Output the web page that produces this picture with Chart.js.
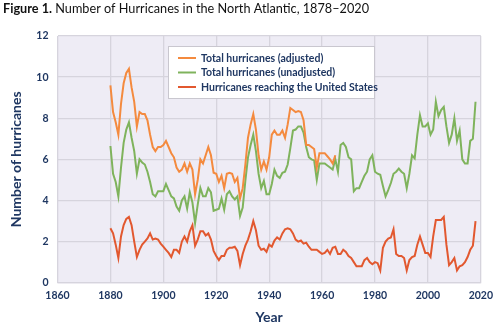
<!DOCTYPE html>
<html>
<head>
<meta charset="utf-8">
<script src="https://cdn.jsdelivr.net/npm/chart.js@4"></script>
<style>
  html, body { margin: 0; padding: 0; background: #ffffff; }
  #wrap { width: 500px; height: 325px; position: relative; }
</style>
</head>
<body>
<div id="wrap"><canvas id="chart" width="500" height="325"></canvas></div>
<script>
// Five-year average counts of North Atlantic hurricanes, plotted at the middle year.
const firstYear = 1880;
const lastYear = 2018;

// Total hurricanes, adjusted for missed storms (1880–1965)
const adjusted = [
  9.6, 8.3, 7.8, 7.2, 8.7, 9.7, 10.2, 10.4, 9.5, 8.8,
  7.6, 8.3, 8.2, 8.2, 7.9, 7.2, 6.6, 6.4, 6.6, 6.6,
  6.7, 6.9, 6.6, 6.3, 6.1, 5.6, 5.4, 5.5, 5.8, 5.4,
  5.8, 5.5, 4.3, 5.0, 6.0, 5.8, 6.2, 6.6, 6.2, 5.35,
  5.3, 4.9, 5.2, 4.6, 5.3, 5.35, 5.3, 4.9, 5.1, 4.1,
  4.6, 5.75, 7.05, 7.7, 8.2, 7.45, 6.2, 5.5, 5.9, 5.5,
  6.1, 7.2, 7.4, 7.2, 7.2, 7.4, 7.05, 7.7, 8.5, 8.4,
  8.3, 8.35, 8.3, 7.9, 6.7, 6.7, 6.6, 6.5, 5.6, 6.3,
  6.3, 6.3, 6.15, 6.0, 5.8, 6.2
];

// Total hurricanes as recorded (1880–2018)
const unadjusted = [
  6.65, 5.3, 4.9, 4.2, 5.6, 6.8, 7.45, 7.8, 7.05, 6.4,
  5.3, 6.0, 5.85, 5.75, 5.4, 4.9, 4.3, 4.2, 4.45, 4.45,
  4.45, 4.8, 4.5, 4.2, 4.1, 3.7, 3.5, 4.0, 4.2, 3.6,
  4.4, 3.9, 2.9, 3.8, 4.6, 4.2, 4.2, 4.6, 4.4, 3.5,
  3.55, 3.6, 4.1, 3.55, 4.3, 4.45, 4.2, 4.05, 4.2, 3.25,
  3.65, 4.95, 6.1, 6.7, 7.2, 6.4, 5.3, 4.6, 4.95, 4.3,
  4.3, 4.8, 5.5, 5.2, 5.1, 5.35, 5.4, 5.75, 6.55, 7.4,
  7.45, 7.6, 7.6, 7.3, 6.6, 6.1, 6.0, 5.95, 5.0, 5.8,
  5.8, 5.8, 5.7, 5.6, 5.5, 6.0, 5.4, 6.7, 6.8, 6.6,
  6.1, 6.0, 4.45, 4.6, 4.6, 4.9, 5.2, 5.4, 6.0, 6.2,
  5.4, 5.3, 5.25, 4.7, 4.2, 4.5, 4.85, 5.3, 5.4, 5.55,
  5.4, 5.3, 4.6, 5.3, 6.2, 6.05, 7.2, 8.15, 7.6, 7.6,
  7.75, 7.2, 7.45, 8.8, 8.1, 8.4, 8.55, 7.6, 6.8, 7.2,
  8.0, 6.9, 7.4, 6.0, 5.8, 5.8, 6.9, 7.0, 8.8
];

// Hurricanes making landfall in the United States (1880–2018)
const reachingUS = [
  2.65, 2.4, 1.85, 1.2, 2.25, 2.8, 3.1, 3.2, 2.8, 2.0,
  1.25, 1.6, 1.85, 2.0, 2.15, 2.4, 2.1, 2.15, 2.1, 1.9,
  1.75, 1.6, 1.45, 1.25, 1.6, 1.6, 1.45, 2.0, 2.25, 2.0,
  2.5, 2.8, 1.8, 2.1, 2.5, 2.5, 2.3, 2.4, 2.1, 1.55,
  1.3, 1.1, 1.3, 1.3, 1.6, 1.7, 1.7, 1.75, 1.55, 0.85,
  1.4, 1.8, 2.1, 2.5, 3.0, 2.55, 1.8, 1.6, 1.65, 1.5,
  1.85, 1.75, 2.05, 2.2, 2.1, 2.4, 2.6, 2.65, 2.6, 2.4,
  2.1, 2.0, 2.05, 1.9, 1.95, 1.75, 1.6, 1.6, 1.6, 1.5,
  1.4, 1.45, 1.6, 1.4, 1.7, 1.75, 1.4, 1.4, 1.6, 1.5,
  1.3, 1.2, 1.0, 0.8, 0.8, 0.8, 1.1, 1.2, 1.0, 0.9,
  1.0, 0.95, 0.6, 1.7, 2.0, 2.15, 2.2, 2.6, 1.4, 1.3,
  1.3, 1.2, 0.6, 1.1, 1.25, 1.3, 1.85, 2.25, 1.85, 1.45,
  1.45, 1.25, 2.25, 3.05, 3.05, 3.05, 3.2, 1.85, 0.85, 1.0,
  1.2, 0.6, 0.8, 0.85, 1.0, 1.25, 1.6, 1.8, 3.0
];

const seriesNames = [
  'Total hurricanes (adjusted)',
  'Total hurricanes (unadjusted)',
  'Hurricanes reaching the United States'
];
const xTicks = [1860, 1880, 1900, 1920, 1940, 1960, 1980, 2000, 2020];
const yTicks = [0, 2, 4, 6, 8, 10, 12];

const titleBold = 'Figure 1.';
const titleRest = ' Number of Hurricanes in the North Atlantic, 1878\u20132020';
const xTitle = 'Year';
const yTitle = 'Number of hurricanes';

const colors = ['#f48a3e', '#7fb35c', '#e2582f'];
const navy = '#1f3762';
const gridColor = '#d6d4dd';
const plotFill = '#eeecf5';
const fontFamily = 'Lato, "Open Sans", sans-serif';

function toPoints(values) {
  return values.map((v, i) => ({ x: firstYear + i, y: v }));
}

const decorations = {
  id: 'decorations',
  beforeDraw(chart) {
    const { ctx, chartArea: a } = chart;
    ctx.save();
    ctx.fillStyle = plotFill;
    ctx.fillRect(a.left, a.top, a.right - a.left, a.bottom - a.top);
    ctx.restore();
  },
  afterDraw(chart) {
    const { ctx, chartArea: a } = chart;
    ctx.save();
    // heading
    ctx.fillStyle = '#111111';
    ctx.textBaseline = 'alphabetic';
    ctx.textAlign = 'left';
    ctx.font = 'bold 12.7px ' + fontFamily;
    ctx.fillText(titleBold, 3, 13);
    const w = ctx.measureText(titleBold).width;
    ctx.font = '12.7px ' + fontFamily;
    ctx.fillText(titleRest, 3 + w, 13);

    // axis titles
    ctx.fillStyle = navy;
    ctx.font = 'bold 14px ' + fontFamily;
    ctx.textAlign = 'center';
    ctx.textBaseline = 'middle';
    ctx.fillText(xTitle, (a.left + a.right) / 2, 317);
    ctx.translate(16, (a.top + a.bottom) / 2);
    ctx.rotate(-Math.PI / 2);
    ctx.fillText(yTitle, 0, 0);
    ctx.restore();

    // legend box
    ctx.save();
    const bx = 168, by = 46, bw = 207, bh = 53;
    ctx.fillStyle = '#ffffff';
    ctx.fillRect(bx, by, bw, bh);
    ctx.strokeStyle = '#c9c7cf';
    ctx.lineWidth = 1;
    ctx.strokeRect(bx + 0.5, by + 0.5, bw - 1, bh - 1);
    ctx.font = 'bold 10.5px ' + fontFamily;
    ctx.textAlign = 'left';
    ctx.textBaseline = 'middle';
    seriesNames.forEach((name, i) => {
      const y = by + 12 + i * 14.5;
      ctx.strokeStyle = colors[i];
      ctx.lineWidth = 2;
      ctx.beginPath();
      ctx.moveTo(bx + 10, y);
      ctx.lineTo(bx + 28, y);
      ctx.stroke();
      ctx.fillStyle = navy;
      ctx.fillText(name, bx + 33, y + 0.5);
    });
    ctx.restore();
  }
};

new Chart(document.getElementById('chart'), {
  type: 'line',
  data: {
    datasets: [
      { label: seriesNames[0], data: toPoints(adjusted), borderColor: colors[0] },
      { label: seriesNames[1], data: toPoints(unadjusted), borderColor: colors[1] },
      { label: seriesNames[2], data: toPoints(reachingUS), borderColor: colors[2] }
    ]
  },
  options: {
    responsive: false,
    animation: false,
    devicePixelRatio: 1,
    layout: { padding: { left: 0, right: 14, top: 36, bottom: 0 } },
    elements: {
      point: { radius: 0 },
      line: { borderWidth: 2, tension: 0, fill: false }
    },
    plugins: {
      legend: { display: false },
      title: { display: false },
      tooltip: { enabled: false }
    },
    scales: {
      x: {
        type: 'linear',
        min: xTicks[0],
        max: xTicks[xTicks.length - 1],
        afterBuildTicks(scale) { scale.ticks = xTicks.map(v => ({ value: v })); },
        afterFit(scale) { scale.height = 42.3; },
        grid: { color: gridColor, lineWidth: 1.3, drawTicks: false },
        border: { display: true, color: gridColor, width: 1.3 },
        ticks: {
          color: navy,
          padding: 7,
          maxRotation: 0,
          font: { family: fontFamily, weight: 'bold', size: 10.5 },
          callback: v => String(v)
        }
      },
      y: {
        min: yTicks[0],
        max: yTicks[yTicks.length - 1],
        afterBuildTicks(scale) { scale.ticks = yTicks.map(v => ({ value: v })); },
        afterFit(scale) { scale.width = 57.5; },
        grid: { color: gridColor, lineWidth: 1.3, drawTicks: false },
        border: { display: false },
        ticks: {
          color: navy,
          padding: 9,
          font: { family: fontFamily, weight: 'bold', size: 10.5 }
        }
      }
    }
  },
  plugins: [decorations]
});
</script>
</body>
</html>
